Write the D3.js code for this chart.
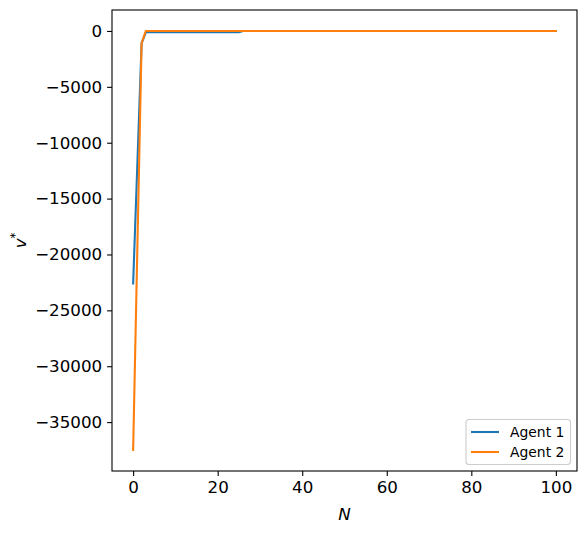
<!DOCTYPE html>
<html><head><meta charset="utf-8">
<script src="https://cdn.jsdelivr.net/npm/d3@7"></script>
<style>body{margin:0;background:#fff}svg{display:block;font-family:"DejaVu Sans",sans-serif}</style>
</head><body><div id="chart"></div>
<script>
// value at index i corresponds to N = i
const agent1 = [
  -22600, -11900, -1100, -120, -120, -120, -120, -120, -120, -120,
  -120, -120, -120, -120, -120, -120, -120, -120, -120, -120,
  -120, -120, -120, -120, -120, -120, 0, 0, 0, 0,
  0, 0, 0, 0, 0, 0, 0, 0, 0, 0,
  0, 0, 0, 0, 0, 0, 0, 0, 0, 0,
  0, 0, 0, 0, 0, 0, 0, 0, 0, 0,
  0, 0, 0, 0, 0, 0, 0, 0, 0, 0,
  0, 0, 0, 0, 0, 0, 0, 0, 0, 0,
  0, 0, 0, 0, 0, 0, 0, 0, 0, 0,
  0, 0, 0, 0, 0, 0, 0, 0, 0, 0,
  0
];
const agent2 = [
  -37500, -19400, -1100, 0, 0, 0, 0, 0, 0, 0,
  0, 0, 0, 0, 0, 0, 0, 0, 0, 0,
  0, 0, 0, 0, 0, 0, 0, 0, 0, 0,
  0, 0, 0, 0, 0, 0, 0, 0, 0, 0,
  0, 0, 0, 0, 0, 0, 0, 0, 0, 0,
  0, 0, 0, 0, 0, 0, 0, 0, 0, 0,
  0, 0, 0, 0, 0, 0, 0, 0, 0, 0,
  0, 0, 0, 0, 0, 0, 0, 0, 0, 0,
  0, 0, 0, 0, 0, 0, 0, 0, 0, 0,
  0, 0, 0, 0, 0, 0, 0, 0, 0, 0,
  0
];
const seriesNames = ["Agent 1", "Agent 2"];
const seriesColors = ["#1f77b4", "#ff7f0e"];
const xTicks = [0, 20, 40, 60, 80, 100];
const yTicks = [0, -5000, -10000, -15000, -20000, -25000, -30000, -35000];

const W = 586, H = 533;
const L = 112, R = 577, T = 10, B = 471;
const svg = d3.select("#chart").append("svg").attr("width", W).attr("height", H);

const x = d3.scaleLinear().domain([-5, 105]).range([L, R]);
const y = d3.scaleLinear().domain([-39375, 1875]).range([B, T]);

const line = d3.line().x((d, i) => x(i)).y(d => y(d));
[agent1, agent2].forEach((s, k) => {
  svg.append("path").datum(s).attr("d", line)
    .attr("fill", "none").attr("stroke", seriesColors[k])
    .attr("stroke-width", 2.1).attr("stroke-linejoin", "round").attr("stroke-linecap", "square");
});

const fmt = v => (v < 0 ? "\u2212" + Math.abs(v) : String(v));
const xAxis = svg.append("g").attr("transform", `translate(0,${B})`)
  .call(d3.axisBottom(x).tickValues(xTicks).tickFormat(fmt).tickSizeOuter(0).tickSize(4.9).tickPadding(4.9));
const yAxis = svg.append("g").attr("transform", `translate(${L},0)`)
  .call(d3.axisLeft(y).tickValues(yTicks).tickFormat(fmt).tickSizeOuter(0).tickSize(4.9).tickPadding(4.9));
[xAxis, yAxis].forEach(a => {
  a.select(".domain").remove();
  a.selectAll("line").attr("stroke", "#000").attr("stroke-width", 1.1);
  a.selectAll("text").attr("fill", "#000").style("font-size", "16.7px").style("font-family", "DejaVu Sans");
});

svg.append("rect").attr("x", L).attr("y", T).attr("width", R - L).attr("height", B - T)
  .attr("fill", "none").attr("stroke", "#000").attr("stroke-width", 1.1);

svg.append("text").attr("x", (L + R) / 2).attr("y", 520).attr("text-anchor", "middle")
  .style("font-size", "16.7px").style("font-style", "italic").text("N");
const yl = svg.append("text").attr("transform", `translate(26,${(T + B) / 2}) rotate(-90)`)
  .attr("text-anchor", "middle").style("font-size", "16.7px");
yl.append("tspan").style("font-style", "italic").text("v");
yl.append("tspan").attr("dy", -7).style("font-size", "11.5px").text("*");

const lg = svg.append("g");
lg.append("rect").attr("x", 466).attr("y", 419.5).attr("width", 104.5).attr("height", 45)
  .attr("rx", 3).attr("fill", "#fff").attr("fill-opacity", 0.8).attr("stroke", "#cccccc").attr("stroke-width", 1.1);
seriesNames.forEach((n, k) => {
  const yy = 432 + k * 20;
  lg.append("line").attr("x1", 471).attr("x2", 499).attr("y1", yy).attr("y2", yy)
    .attr("stroke", seriesColors[k]).attr("stroke-width", 2.1);
  lg.append("text").attr("x", 510).attr("y", yy).attr("dy", "0.35em")
    .style("font-size", "13.9px").text(n);
});
</script></body></html>
